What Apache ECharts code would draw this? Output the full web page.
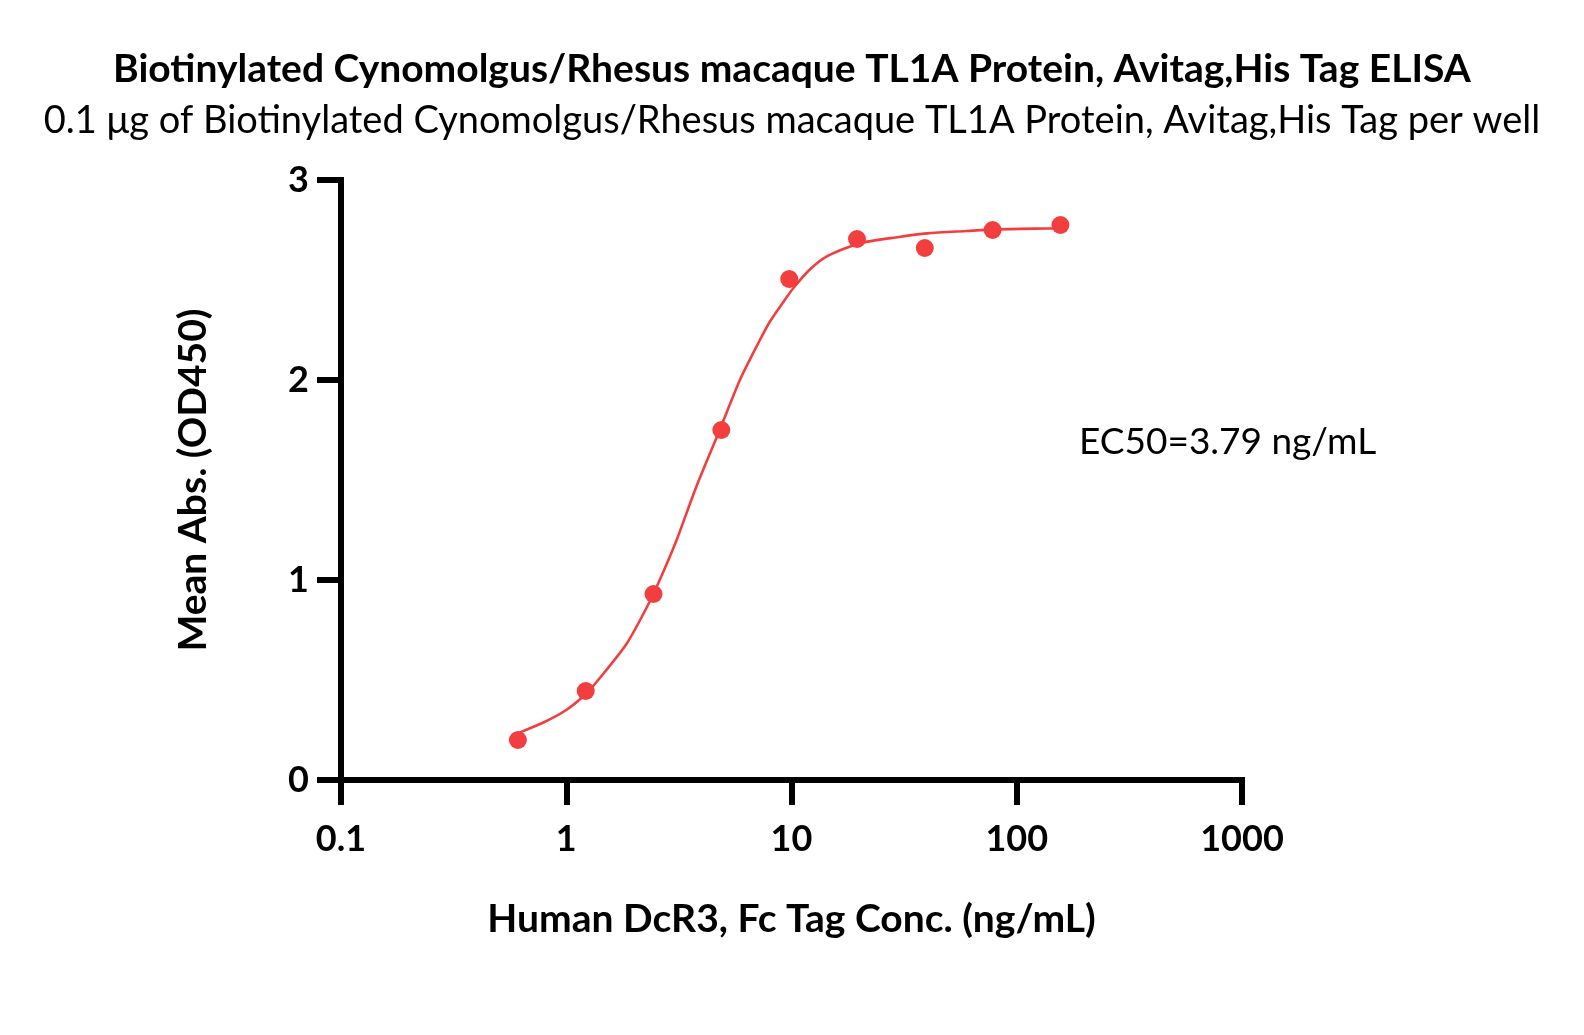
<!DOCTYPE html>
<html>
<head>
<meta charset="utf-8">
<script src="https://cdn.jsdelivr.net/npm/echarts@6/dist/echarts.min.js"></script>
<style>
  html, body { margin: 0; padding: 0; background: #fff; }
  #chart { width: 1584px; height: 1035px; }
</style>
</head>
<body>
<div id="chart"></div>
<script>
// measured points (ng/mL, OD450)
const conc = [0.61, 1.22, 2.44, 4.88, 9.77, 19.53, 39.06, 78.13, 156.25];
const od = [0.20, 0.445, 0.93, 1.75, 2.505, 2.705, 2.66, 2.75, 2.775];

// fitted curve
const curveX = [0.62, 0.8, 1.0, 1.22, 1.41, 1.85, 2.27, 2.6, 3.09, 3.79, 4.8, 5.9, 7.24, 8.0, 9.2, 10.2, 12, 14.3, 20, 30, 40, 60, 80, 120, 156];
const curveY = [0.237, 0.29, 0.35, 0.43, 0.51, 0.68, 0.86, 1.0, 1.2, 1.47, 1.75, 2.0, 2.2, 2.29, 2.39, 2.46, 2.55, 2.617, 2.683, 2.715, 2.733, 2.745, 2.753, 2.757, 2.758];

const xTicks = [0.1, 1, 10, 100, 1000];
const yTicks = [0, 1, 2, 3];

const red = '#F23E3E';
const font = 'Lato, "Open Sans", sans-serif';

const chart = echarts.init(document.getElementById('chart'));

chart.setOption({
  animation: false,
  title: [
    {
      text: 'Biotinylated Cynomolgus/Rhesus macaque TL1A Protein, Avitag,His Tag ELISA',
      left: 'center',
      top: 45,
      textStyle: { fontFamily: font, fontSize: 39, fontWeight: 'bold', color: '#000' }
    },
    {
      text: '0.1 μg of Biotinylated Cynomolgus/Rhesus macaque TL1A Protein, Avitag,His Tag per well',
      left: 'center',
      top: 97,
      textStyle: { fontFamily: font, fontSize: 38, fontWeight: 'normal', color: '#000' }
    }
  ],
  grid: { left: 341, right: 342, top: 180, bottom: 255 },
  xAxis: {
    type: 'log',
    logBase: 10,
    min: xTicks[0],
    max: xTicks[xTicks.length - 1],
    name: 'Human DcR3, Fc Tag Conc. (ng/mL)',
    nameLocation: 'middle',
    nameGap: 120,
    nameTextStyle: { fontFamily: font, fontSize: 39, fontWeight: 'bold', color: '#000' },
    axisLine: { lineStyle: { color: '#000', width: 6, cap: 'square' } },
    axisTick: { length: 25, lineStyle: { color: '#000', width: 6 } },
    axisLabel: {
      margin: 41,
      fontFamily: font, fontSize: 36, fontWeight: 'bold', color: '#000',
      formatter: v => String(v)
    },
    splitLine: { show: false },
    minorTick: { show: false }
  },
  yAxis: {
    type: 'value',
    min: yTicks[0],
    max: yTicks[yTicks.length - 1],
    interval: 1,
    name: 'Mean Abs. (OD450)',
    nameLocation: 'middle',
    nameGap: 128,
    nameTextStyle: { fontFamily: font, fontSize: 39, fontWeight: 'bold', color: '#000' },
    axisLine: { show: true, lineStyle: { color: '#000', width: 6, cap: 'square' } },
    axisTick: { show: true, length: 24, lineStyle: { color: '#000', width: 6 } },
    axisLabel: { margin: 32, fontFamily: font, fontSize: 36, fontWeight: 'bold', color: '#000' },
    splitLine: { show: false }
  },
  series: [
    {
      name: 'fit',
      type: 'line',
      data: curveX.map((x, i) => [x, curveY[i]]),
      smooth: 0.25,
      showSymbol: false,
      lineStyle: { color: red, width: 2.6 },
      z: 2
    },
    {
      name: 'data',
      type: 'scatter',
      data: conc.map((x, i) => [x, od[i]]),
      symbolSize: 18,
      itemStyle: { color: red, opacity: 1 },
      z: 3
    }
  ],
  graphic: [
    {
      type: 'text',
      left: 1079,
      top: 424,
      style: { text: 'EC50=3.79 ng/mL', fontFamily: font, fontSize: 37, fill: '#000' }
    }
  ]
});
</script>
</body>
</html>
